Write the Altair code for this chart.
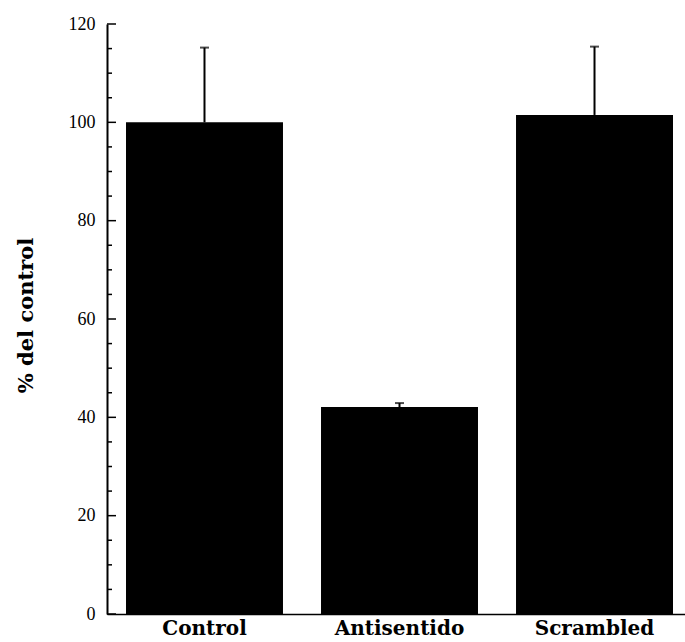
import altair as alt
import pandas as pd

categories = ["Control", "Antisentido", "Scrambled"]
means = [100.0, 42.1, 101.5]
upper = [115.2, 42.9, 115.4]
major_ticks = [0, 20, 40, 60, 80, 100, 120]
minor_ticks = [5, 10, 15, 25, 30, 35, 45, 50, 55, 65, 70, 75, 85, 90, 95, 105, 110, 115]

df = pd.DataFrame({"cat": categories, "mean": means, "upper": upper})
df_major = pd.DataFrame({"v": major_ticks})
df_minor = pd.DataFrame({"v": minor_ticks})

serif = "DejaVu Serif"

xenc = alt.X(
    "cat:N",
    sort=categories,
    scale=alt.Scale(paddingInner=0.195, paddingOuter=0.0795, align=0.613),
    axis=alt.Axis(
        title=None, labelAngle=0, ticks=False, domainColor="black", domainWidth=1.5,
        labelFont=serif, labelFontWeight="bold", labelFontSize=20, labelColor="black",
        labelPadding=4,
    ),
)
yscale = alt.Scale(domain=[0, 120], nice=False)

bars = alt.Chart(df).mark_bar(color="black").encode(
    x=xenc,
    y=alt.Y(
        "mean:Q", scale=yscale,
        axis=alt.Axis(
            title="% del control", values=major_ticks, tickSize=0, grid=False,
            domainColor="black", domainWidth=2,
            labelFont="Liberation Serif", labelFontSize=18, labelColor="black", labelPadding=12,
            titleFont=serif, titleFontWeight="bold", titleFontSize=21, titleColor="black",
            titleAngle=-90, titleX=-75, titleY=291, titleAlign="center", titleBaseline="alphabetic",
        ),
    ),
)

err = alt.Chart(df).mark_rule(color="black", strokeWidth=2).encode(
    x=alt.X("cat:N", sort=categories),
    y=alt.Y("mean:Q"),
    y2="upper:Q",
)
cap = alt.Chart(df).mark_tick(color="black", thickness=2, size=9, orient="horizontal").encode(
    x=alt.X("cat:N", sort=categories),
    y=alt.Y("upper:Q"),
)

maj = alt.Chart(df_major).mark_rule(color="black", strokeWidth=1.5).encode(
    x=alt.value(0), x2=alt.value(9), y=alt.Y("v:Q")
)
mnr = alt.Chart(df_minor).mark_rule(color="black", strokeWidth=1.5).encode(
    x=alt.value(0), x2=alt.value(5), y=alt.Y("v:Q")
)

chart = alt.layer(bars, err, cap, maj, mnr).properties(
    width=578, height=590,
    autosize=alt.AutoSizeParams(type="none"),
    padding={"left": 107, "top": 24, "right": 0, "bottom": 28},
    background="white",
).configure_view(stroke=None)

chart.save("out.html", embed_options={"renderer": "svg", "actions": False})
